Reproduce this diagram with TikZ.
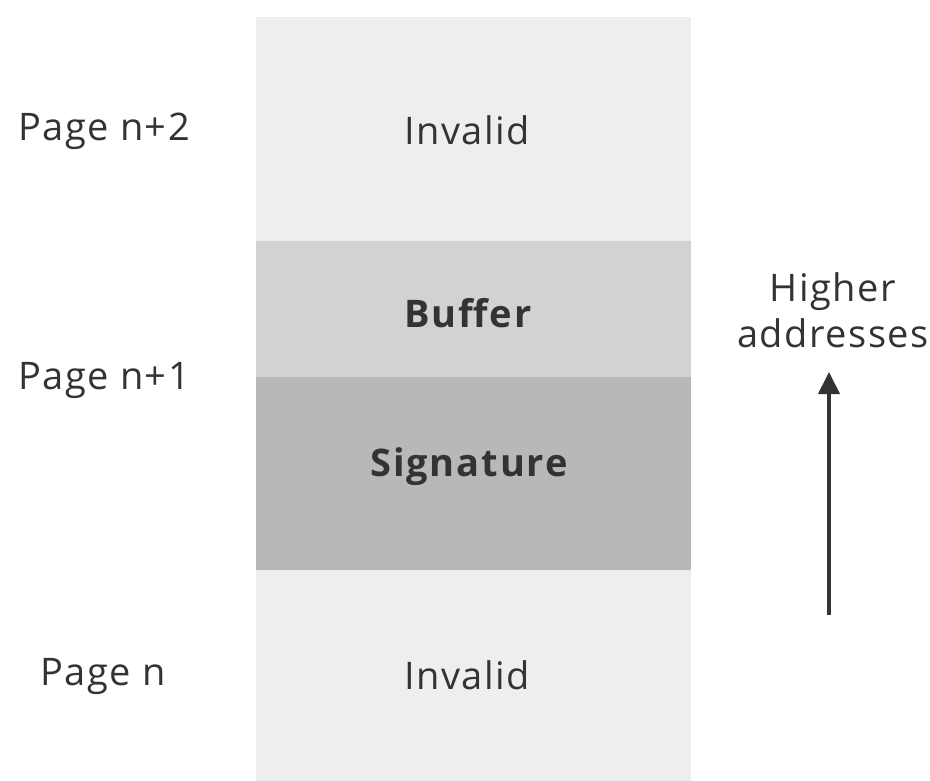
\documentclass[tikz,border=0pt]{standalone}
\usepackage{fontspec}
\setmainfont{Open Sans}
\usetikzlibrary{arrows.meta}
\definecolor{txt}{HTML}{333333}
\definecolor{lightg}{HTML}{EEEEEE}
\definecolor{midg}{HTML}{D1D2D4}
\definecolor{darkg}{HTML}{B7B8BA}
\tikzset{
  lbl/.style={text=txt, font=\fontsize{38}{46}\selectfont\addfontfeatures{LetterSpace=4}, inner sep=0pt},
  blbl/.style={text=txt, font=\fontsize{38}{46}\selectfont\bfseries\addfontfeatures{LetterSpace=5}, inner sep=0pt},
}
\begin{document}
\begin{tikzpicture}[x=1pt,y=-1pt]
\useasboundingbox (0,0) rectangle (930,781);
\fill[lightg] (256,17) rectangle (691,241);
\fill[midg] (256,241) rectangle (691,377);
\fill[darkg] (256,377) rectangle (691,570);
\fill[lightg] (256,570) rectangle (691,781);
\node[lbl] (inv2) at (467,130) {Invalid};
\node[blbl] (buf) at (468,313) {Buffer};
\node[blbl] (sig) at (469,467) {Signature};
\node[lbl] (inv0) at (467,675) {Invalid};
\node[lbl] (p2) at (104,131) {Page n+2};
\node[lbl] (p1) at (104,380) {Page n+1};
\node[lbl] (p0) at (103,676) {Page n};
\node[lbl, align=center] (ha) at (833,310) {Higher\\addresses};
\coordinate (abot) at (829,615);
\coordinate (atop) at (829,372);
\draw[txt, line width=4pt, -{Triangle[length=22pt,width=21pt]}] (abot) -- (atop);
\end{tikzpicture}
\end{document}
